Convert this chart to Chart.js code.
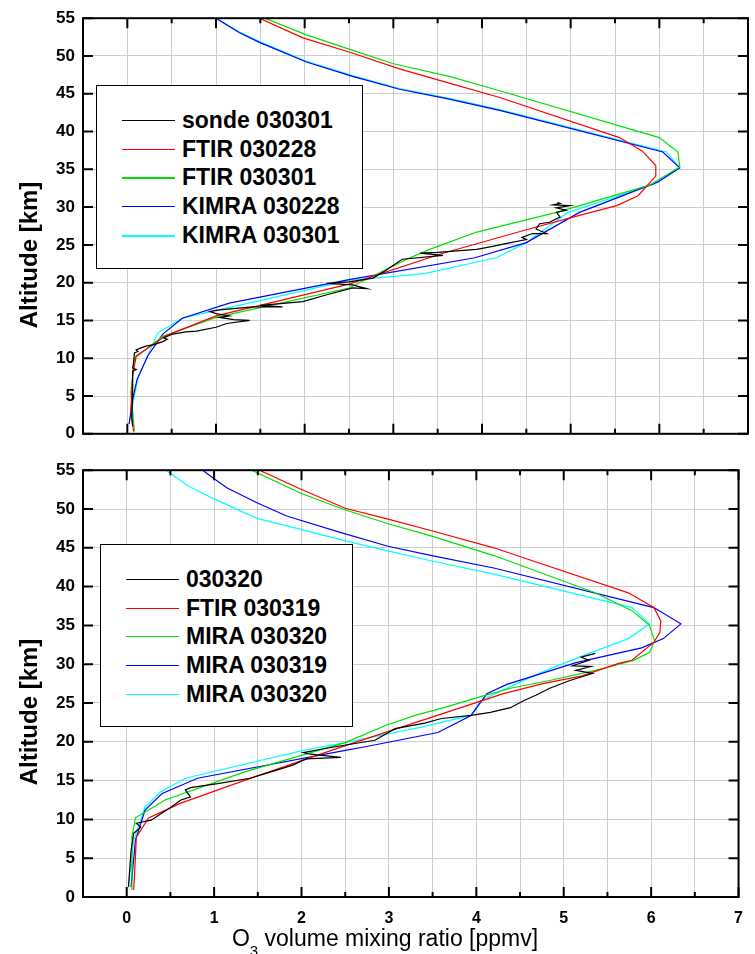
<!DOCTYPE html>
<html lang="en">
<head>
<meta charset="UTF-8">
<title>O3 profiles</title>
<script src="https://cdn.jsdelivr.net/npm/chart.js"></script>
<style>
    body { margin: 0; background: #fff; font-family: "Liberation Sans", Arial, sans-serif; }
    #wrap { position: relative; width: 755px; height: 954px; overflow: hidden; }
    canvas { position: absolute; left: 0; }
    .legend { position: absolute; background: #fff; border: 1.5px solid #000; box-sizing: border-box; }
    .legend .row { position: absolute; left: 0; width: 100%; height: 28px; }
    .legend .swatch { position: absolute; left: 25px; top: 14px; width: 53px; }
    .legend .lbl { position: absolute; left: 85px; top: 0; line-height: 28px; font-size: 23px; font-weight: bold; color: #000; white-space: nowrap; }
</style>
</head>
<body>
<div id="wrap">
    <canvas id="top" width="755" height="452" style="top:0"></canvas>
    <canvas id="bottom" width="755" height="502" style="top:452px"></canvas>
    <div id="legTop" class="legend" style="left:96px; top:85px; width:267px; height:184px"></div>
    <div id="legBottom" class="legend" style="left:100px; top:544px; width:253px; height:183px"></div>
</div>
<script>
// ---- top panel: 28 Feb / 1 Mar 2003 ----
const sondeTopO3  = [0.06,0.05,0.06,0.06,0.10,0.06,0.07,0.08,0.12,0.10,0.14,0.21,0.30,0.40,0.45,0.41,0.51,0.66,0.78,1.00,1.12,1.38,1.20,1.04,1.15,1.00,0.93,1.04,1.41,1.75,1.50,1.98,2.25,2.54,2.70,2.54,2.25,2.50,2.77,2.90,3.00,3.10,3.56,3.30,3.50,3.94,4.12,4.28,4.50,4.45,4.57,4.73,4.61,4.65,4.76,4.88,4.84,4.95,4.84,4.99,4.80,4.88,4.85];
const sondeTopAlt = [1.0,2.1,5.1,8.3,8.5,8.7,9.4,10.7,10.9,11.1,11.3,11.6,11.8,12.2,12.5,12.7,13.2,13.5,13.6,14.1,14.6,15.0,15.1,15.4,15.6,15.9,16.2,16.4,16.8,16.8,17.0,17.5,18.4,19.3,19.2,19.7,19.9,20.1,20.6,21.5,22.3,23.1,23.6,23.9,24.0,24.4,24.8,25.2,25.7,26.0,26.5,26.5,27.1,27.8,28.0,28.7,29.3,29.6,29.9,30.2,30.3,30.5,30.6];

const ftir0228O3  = [0.07,0.04,0.06,0.10,0.44,1.00,2.50,3.56,4.50,5.10,5.52,5.76,5.96,5.96,5.81,5.55,4.20,3.63,3.07,2.51,1.98,1.49];
const ftir0228Alt = [0.3,3.3,7.7,10.3,13.0,15.6,19.8,23.9,27.0,28.9,30.2,31.5,34.1,35.5,37.4,39.2,44.5,46.4,48.3,50.5,52.4,55.0];

const ftir0301O3  = [0.08,0.04,0.08,0.40,1.00,2.50,3.15,3.41,3.94,4.84,5.89,6.23,6.21,6.00,4.20,3.63,2.99,2.50,2.02,1.55];
const ftir0301Alt = [0.3,5.5,10.0,12.9,15.4,19.3,23.1,24.4,26.7,29.3,32.9,35.3,37.3,39.2,45.4,47.3,49.0,50.9,52.8,55.0];

const kimra0228O3  = [0.02,0.06,0.11,0.23,0.40,0.62,1.15,2.50,3.92,4.50,5.10,5.98,6.23,6.04,4.20,3.63,3.07,2.54,2.02,1.49,1.26,1.00];
const kimra0228Alt = [1.3,4.6,7.2,10.3,13.2,15.3,17.3,20.4,23.3,25.3,29.3,33.3,35.2,37.3,42.8,44.3,45.6,47.3,49.2,51.8,53.1,55.0];

const kimra0301O3  = [0.02,0.05,0.12,0.34,0.62,2.50,3.35,4.16,4.50,4.97,5.93,6.23,6.08,4.20,3.63,3.07,2.54,2.02,1.49,1.26,1.00];
const kimra0301Alt = [1.3,3.3,7.4,13.3,15.3,20.3,21.2,23.3,25.3,29.3,33.0,35.2,37.3,42.9,44.4,45.7,47.4,49.3,51.9,53.2,55.0];

// ---- bottom panel: 19 / 20 Mar 2003 ----
const sondeBotO3  = [0.02,0.05,0.08,0.16,0.11,0.28,0.40,0.51,0.62,0.73,0.67,0.73,1.04,1.41,1.64,1.90,2.05,2.45,2.10,2.02,2.30,2.84,3.07,3.41,3.60,3.94,4.16,4.39,4.54,4.68,4.84,5.07,5.33,5.14,5.31,5.10,5.29,5.20,5.36];
const sondeBotAlt = [1.3,6.0,8.2,9.0,9.5,9.9,10.8,11.6,12.5,12.9,13.8,14.1,14.6,15.3,16.1,17.0,17.8,18.0,18.4,18.6,19.2,20.2,21.7,22.4,23.0,23.4,23.8,24.4,25.3,26.0,26.9,27.9,28.8,29.2,29.7,29.8,30.5,30.9,31.4];

const ftir0319O3  = [0.08,0.10,0.11,0.25,0.62,1.34,2.50,4.31,4.76,5.21,5.63,5.78,6.03,6.10,6.11,6.03,5.74,4.65,4.20,3.49,2.99,2.50,1.98,1.52];
const ftir0319Alt = [0.9,5.2,7.7,10.2,12.1,15.0,19.5,26.2,27.5,28.5,30.1,30.5,32.8,34.1,35.6,37.3,39.2,43.3,45.0,47.2,48.7,50.1,52.6,55.0];

const mira0320aO3  = [0.06,0.06,0.10,0.44,1.34,2.50,2.96,3.30,3.63,4.01,4.39,4.84,5.36,5.80,5.98,6.04,5.98,5.78,5.36,4.20,3.49,2.99,2.47,1.98,1.43];
const mira0320aAlt = [0.9,7.7,10.2,12.5,16.1,19.9,22.1,23.4,24.4,25.7,26.9,27.9,29.2,30.5,31.5,33.0,35.0,36.9,39.2,44.0,46.5,48.1,50.0,52.1,55.0];

const mira0319O3  = [0.05,0.10,0.21,0.40,0.81,2.50,2.70,3.56,3.94,4.12,4.35,5.14,5.89,6.14,6.34,6.03,4.20,3.49,2.99,2.47,1.83,1.49,1.15,1.00,0.87];
const mira0319Alt = [1.3,7.3,11.2,13.3,15.3,18.9,19.3,21.2,23.4,26.2,27.4,30.2,32.1,33.3,35.2,37.3,42.4,44.0,45.2,46.9,49.1,50.8,52.7,53.9,55.0];

const mira0320bO3  = [0.02,0.08,0.21,0.38,0.67,2.02,2.50,3.37,3.94,4.05,4.46,4.84,5.29,5.74,5.98,5.78,4.20,3.49,2.99,2.50,1.98,1.49,1.00,0.70,0.45];
const mira0320bAlt = [1.3,7.3,11.6,13.5,15.3,18.9,19.9,21.9,23.4,25.3,27.5,29.4,31.4,33.3,35.2,37.3,41.6,43.3,44.6,45.9,47.4,48.8,51.3,53.0,55.0];

const topLabels = ['sonde 030301', 'FTIR 030228', 'FTIR 030301', 'KIMRA 030228', 'KIMRA 030301'];
const bottomLabels = ['030320', 'FTIR 030319', 'MIRA 030320', 'MIRA 030319', 'MIRA 030320'];
const colors = ['#000000', '#ff0000', '#00e000', '#0000ff', '#00ffff'];

const FONT = '"Liberation Sans", Arial, sans-serif';
const isInt = v => Math.abs(v - Math.round(v)) < 1e-6;

const frameTicks = {
    id: 'frameTicks',
    afterDatasetsDraw(chart, args, opts) {
        const { ctx, chartArea: a, scales: { x, y } } = chart;
        ctx.save();
        ctx.strokeStyle = '#000';
        ctx.lineWidth = 2;
        ctx.strokeRect(a.left, a.top, a.right - a.left, a.bottom - a.top);
        ctx.beginPath();
        x.ticks.forEach(t => {
            const px = x.getPixelForValue(t.value);
            const len = isInt(t.value) ? 10 : 5;
            ctx.moveTo(px, a.bottom); ctx.lineTo(px, a.bottom - len);
            ctx.moveTo(px, a.top); ctx.lineTo(px, a.top + len);
        });
        y.ticks.forEach(t => {
            const py = y.getPixelForValue(t.value);
            ctx.moveTo(a.left, py); ctx.lineTo(a.left + 10, py);
            ctx.moveTo(a.right, py); ctx.lineTo(a.right - 10, py);
        });
        ctx.stroke();

        // y title
        ctx.fillStyle = '#000';
        ctx.font = 'bold 24px ' + FONT;
        ctx.textAlign = 'center';
        ctx.textBaseline = 'middle';
        ctx.translate(30, opts.yTitleY);
        ctx.rotate(-Math.PI / 2);
        ctx.fillText('Altitude [km]', 0, 0);
        ctx.restore();

        // x title with subscript
        if (opts.xTitle) {
            ctx.save();
            ctx.fillStyle = '#000';
            ctx.textBaseline = 'alphabetic';
            ctx.textAlign = 'left';
            const big = '23px ' + FONT, small = '15px ' + FONT;
            const rest = ' volume mixing ratio [ppmv]';
            ctx.font = big;
            const wO = ctx.measureText('O').width;
            const wR = ctx.measureText(rest).width;
            ctx.font = small;
            const w3 = ctx.measureText('3').width;
            let x0 = 385 - (wO + w3 + wR) / 2;
            const base = opts.xTitleBase;
            ctx.font = big;
            ctx.fillText('O', x0, base);
            ctx.font = small;
            ctx.fillText('3', x0 + wO, base + 10);
            ctx.font = big;
            ctx.fillText(rest, x0 + wO + w3, base);
            ctx.restore();
        }
    }
};

function makeChart(id, series, labels, o) {
    return new Chart(document.getElementById(id), {
        type: 'scatter',
        data: {
            datasets: series.map((s, i) => ({
                label: labels[i],
                data: s[0].map((v, j) => ({ x: v, y: s[1][j] })),
                borderColor: colors[i],
                backgroundColor: colors[i],
                borderWidth: 1.2,
                showLine: true,
                pointRadius: 0,
                tension: 0
            }))
        },
        options: {
            responsive: false,
            animation: false,
            layout: { padding: { top: o.padTop, right: 7, left: 0, bottom: 0 } },
            plugins: {
                legend: { display: false },
                tooltip: { enabled: false },
                frameTicks: { yTitleY: o.yTitleY, xTitle: o.xTitle, xTitleBase: o.xTitleBase }
            },
            scales: {
                x: {
                    type: 'linear', min: -0.5, max: 7,
                    afterFit(s) { s.height = o.xHeight; },
                    ticks: {
                        display: o.xTitle, stepSize: 0.5, autoSkip: false, maxRotation: 0,
                        padding: 12, color: '#000', font: { family: FONT, size: 16, weight: 'bold' },
                        callback: v => isInt(v) && v >= 0 ? String(Math.round(v)) : ''
                    },
                    grid: { color: '#cccccc', lineWidth: 1, drawTicks: false },
                    border: { display: false }
                },
                y: {
                    type: 'linear', min: 0, max: 55,
                    afterFit(s) { s.width = 83; },
                    ticks: {
                        stepSize: 5, padding: 8, color: '#000',
                        font: { family: FONT, size: 17, weight: 'bold' }
                    },
                    grid: { color: '#cccccc', lineWidth: 1, drawTicks: false },
                    border: { display: false }
                }
            }
        },
        plugins: [frameTicks]
    });
}

function buildLegend(elId, chart, widths) {
    const el = document.getElementById(elId);
    chart.data.datasets.forEach((ds, i) => {
        const row = document.createElement('div');
        row.className = 'row';
        row.style.top = Math.round(20 + i * 28.7) + 'px';
        row.innerHTML = '<div class="swatch" style="height:' + widths[i] + 'px;background:' + ds.borderColor + '"></div>' +
            '<span class="lbl">' + ds.label + '</span>';
        el.appendChild(row);
    });
}

const topChart = makeChart('top', [
    [sondeTopO3, sondeTopAlt], [ftir0228O3, ftir0228Alt], [ftir0301O3, ftir0301Alt],
    [kimra0228O3, kimra0228Alt], [kimra0301O3, kimra0301Alt]
], topLabels, { padTop: 15, xHeight: 9, xTitle: false, yTitleY: 255 });

const bottomChart = makeChart('bottom', [
    [sondeBotO3, sondeBotAlt], [ftir0319O3, ftir0319Alt], [mira0320aO3, mira0320aAlt],
    [mira0319O3, mira0319Alt], [mira0320bO3, mira0320bAlt]
], bottomLabels, { padTop: 17, xHeight: 57, xTitle: true, xTitleBase: 494, yTitleY: 260 });

buildLegend('legTop', topChart, [1, 1, 2, 1, 2]);
buildLegend('legBottom', bottomChart, [1, 1, 1, 1, 1]);
</script>
</body>
</html>
